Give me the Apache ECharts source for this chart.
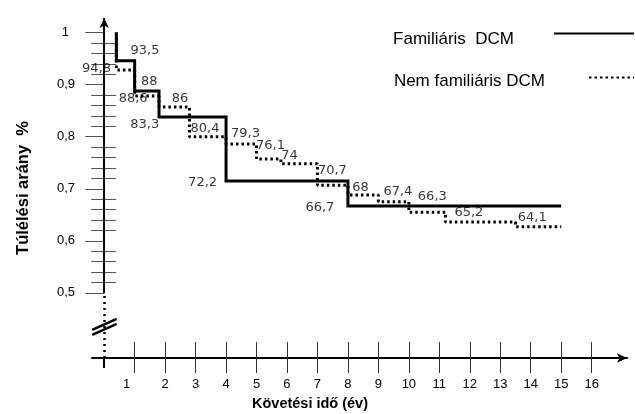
<!DOCTYPE html>
<html><head><meta charset="utf-8">
<script src="https://cdn.jsdelivr.net/npm/echarts@6/dist/echarts.min.js"></script>
<style>html,body{margin:0;padding:0;background:#fff}#c{width:635px;height:414px}</style>
</head><body><div id="c"></div>
<script>
// ---- data ----
const famName = 'Familiáris  DCM';
const nonName = 'Nem familiáris DCM';
const famTime = [0.4, 0.4, 1, 1.8, 4, 8, 15];
const famSurv = [1, 0.946, 0.888, 0.838, 0.715, 0.667, 0.667];
const nonTime = [0.4, 0.4, 1, 1.8, 2.8, 4, 5, 5.8, 7, 8, 9, 10, 11.2, 13.5, 15];
const nonSurv = [1, 0.928, 0.878, 0.857, 0.800, 0.786, 0.757, 0.748, 0.707, 0.688, 0.675, 0.655, 0.636, 0.627, 0.627];
const labelText = ['93,5','94,8','88','88,6','86','83,3','80,4','79,3','76,1','74','70,7','72,2','66,7','68','67,4','66,3','65,2','64,1'];
const labelTime = [1.34,-0.25,1.48,0.95,2.49,1.33,3.31,4.64,5.46,6.08,7.49,3.23,7.08,8.41,9.64,10.77,11.97,14.05];
const labelSurv = [0.9645,0.930,0.905,0.874,0.874,0.824,0.815,0.805,0.782,0.763,0.734,0.711,0.663,0.703,0.694,0.684,0.655,0.644];
const xTicks = [1,2,3,4,5,6,7,8,9,10,11,12,13,14,15,16];
const xTickLabels = ['1','2','3','4','5','6','7','8','9','10','11','12','13','14','15','16'];
const yMajor = [0.5,0.6,0.7,0.8,0.9,1];
const yMajorLabels = ['0,5','0,6','0,7','0,8','0,9','1'];
const yMinor = [0.52,0.54,0.56,0.58,0.62,0.64,0.66,0.68,0.72,0.74,0.76,0.78,0.82,0.84,0.86,0.88,0.92,0.94,0.96,0.98];
const xTitle = 'Követési idő (év)';
const yTitle = 'Túlélési arány  %';
const yBreakValue = 0.434;
const yAxisSolidFrom = 0.5;

// ---- chart ----
const X_MIN = -0.4, X_MAX = 17.16, Y_MIN = 0.375, Y_MAX = 1.028;
const chart = echarts.init(document.getElementById('c'), null, {renderer:'canvas'});
const zip = (a, b) => a.map((v, i) => [v, b[i]]);
const findLbl = (arr, vals, v) => { const i = vals.findIndex(t => Math.abs(t - v) < 1e-6); return i >= 0 ? arr[i] : ''; };

const hidLine = {show:true, onZero:true, onZeroAxisIndex:0, lineStyle:{opacity:0}};
function yAx(extra){ return Object.assign({type:'value', min:Y_MIN, max:Y_MAX, axisLine:hidLine, splitLine:{show:false}, axisLabel:{show:false}, axisTick:{show:false}}, extra); }
function xAx(extra){ return Object.assign({type:'value', min:X_MIN, max:X_MAX, position:'bottom', axisLine:{show:true, onZero:false, lineStyle:{opacity:0}}, splitLine:{show:false}, axisLabel:{show:false}, axisTick:{show:false}}, extra); }
const legendText = (pad) => ({fontFamily:'Liberation Sans', fontSize:17, color:'#000',
  rich:{t:{fontFamily:'Liberation Sans', fontSize:17, color:'#000', padding:pad}}});

const option = {
  animation:false,
  backgroundColor:'#fff',
  grid:{left:92, right:8, top:18, bottom:56, containLabel:false, outerBoundsMode:'none'},
  legend:[
    {data:[famName], right:0, top:28, align:'right', padding:0, selectedMode:false, itemWidth:80, itemHeight:14,
     itemStyle:{opacity:0}, formatter:(n) => '{t|' + n + '}', textStyle:legendText([12,35,0,0])},
    {data:[nonName], right:0, top:72, align:'right', padding:0, selectedMode:false, itemWidth:45, itemHeight:14,
     itemStyle:{opacity:0}, formatter:(n) => '{t|' + n + '}', textStyle:legendText([8,39,0,0])}
  ],
  xAxis:[
    xAx({axisLine:{show:true, onZero:false, symbol:['none','arrow'], symbolSize:[7,10], lineStyle:{color:'#000', width:2}},
      axisTick:{show:true, inside:false, length:15, customValues:xTicks, lineStyle:{color:'#333', width:1}},
      axisLabel:{show:true, customValues:xTicks, margin:20, color:'#000', fontFamily:'Liberation Sans', fontSize:13,
        formatter:(v) => { const s = findLbl(xTickLabels, xTicks, v); return s === '1' ? '{a|' + s + '}' : s; },
        rich:{a:{fontFamily:'Liberation Sans', fontSize:13, color:'#000', padding:[0,16,0,0]}}},
      name:xTitle, nameLocation:'middle', nameGap:38, nameMoveOverlap:false,
      nameTextStyle:{fontFamily:'Liberation Sans', fontWeight:'bold', fontSize:14.5, color:'#000', padding:[0,99,0,0]}}),
    xAx({axisTick:{show:true, inside:true, length:16, customValues:xTicks, lineStyle:{color:'#333', width:1}}}),
    xAx({axisTick:{show:true, inside:false, length:10, customValues:[0], lineStyle:{color:'#000', width:2}}})
  ],
  yAxis:[
    yAx({axisTick:{show:true, inside:false, length:18, customValues:yMajor, lineStyle:{color:'#555', width:1}},
      axisLabel:{show:true, customValues:yMajor, margin:17, color:'#000', fontFamily:'Liberation Sans', fontSize:13,
        formatter:(v) => { const s = findLbl(yMajorLabels, yMajor, v); return s === '1' ? '{a|' + s + '}' : s; },
        rich:{a:{fontFamily:'Liberation Sans', fontSize:13, color:'#000', padding:[0,6,0,0]}}},
      name:yTitle, nameLocation:'middle', nameRotate:90, nameGap:60, nameMoveOverlap:false,
      nameTextStyle:{fontFamily:'Liberation Sans', fontWeight:'bold', fontSize:16.5, color:'#000'}}),
    yAx({axisTick:{show:true, inside:true, length:19, customValues:yMajor, lineStyle:{color:'#555', width:1}}}),
    yAx({axisTick:{show:true, inside:false, length:12, customValues:yMinor, lineStyle:{color:'#555', width:1}}}),
    yAx({axisTick:{show:true, inside:true, length:13, customValues:yMinor, lineStyle:{color:'#555', width:1}}})
  ],
  series:[
    {name:famName, type:'line', step:'end', data:zip(famTime, famSurv), symbol:'none', silent:true,
     lineStyle:{color:'#000', width:3, cap:'butt', join:'miter'}, z:5,
     markLine:{silent:true, symbol:['none','arrow'], symbolSize:[7,10], label:{show:false},
       lineStyle:{color:'#000', width:2, type:'solid'},
       data:[[{coord:[0, yAxisSolidFrom], symbol:'none'},{coord:[0, Y_MAX]}],
             [{coord:[0, Y_MIN], symbol:'none', lineStyle:{type:[2,4], width:2.5, color:'#000'}},{coord:[0, yAxisSolidFrom], symbol:'none'}]]}},
    {name:nonName, type:'line', step:'end', data:zip(nonTime, nonSurv), symbol:'none', silent:true,
     lineStyle:{color:'#000', width:3, type:[2.5,3], cap:'butt'}, z:4},
    {name:'labels', type:'scatter', silent:true, symbolSize:0, z:6,
     data:labelTime.map((t, i) => [t, labelSurv[i], labelText[i]]),
     label:{show:true, position:'inside', formatter:(p) => p.data[2], color:'#000', fontFamily:'DejaVu Sans', fontSize:13}}
  ]
};
chart.setOption(option);

// axis break glyph "//" on the y axis
const c = chart.convertToPixel({gridIndex:0}, [0, yBreakValue]);
chart.setOption({graphic:[
  {type:'line', shape:{x1:c[0]-12, y1:c[1]+7.5, x2:c[0]+12.5, y2:c[1]-3.5}, style:{stroke:'#000', lineWidth:2.5}, z:10},
  {type:'line', shape:{x1:c[0]-12, y1:c[1]+2.5, x2:c[0]+12.5, y2:c[1]-8.5}, style:{stroke:'#000', lineWidth:2.5}, z:10}
]});
</script></body></html>
